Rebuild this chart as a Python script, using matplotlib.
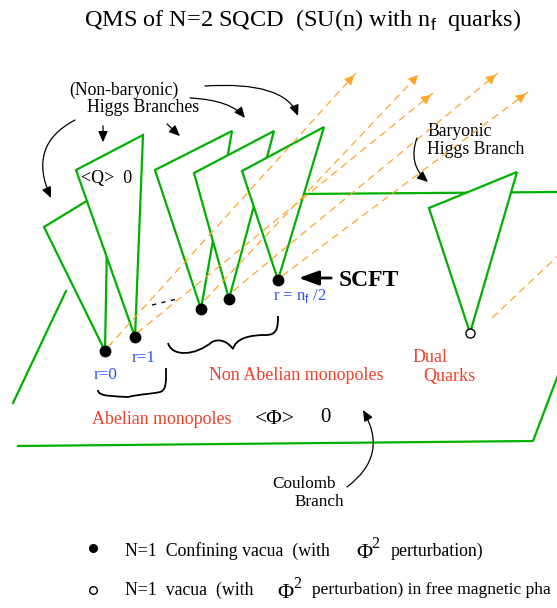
import matplotlib
matplotlib.use("Agg")
import matplotlib.pyplot as plt
from matplotlib.patches import Polygon, FancyArrowPatch, PathPatch
from matplotlib.path import Path

plt.rcParams['font.family'] = ['Liberation Serif', 'DejaVu Serif']
plt.rcParams['mathtext.fontset'] = 'custom'
plt.rcParams['mathtext.rm'] = 'Liberation Serif'
plt.rcParams['mathtext.sf'] = 'Liberation Sans'

GREEN = '#00b000'
ORANGE = '#ffa528'
RED = '#f4402a'
BLUE = '#3050f0'

# sheets of the moduli space (pixel coords of the drawing)
coulomb_left = [(66, 291), (13, 403)]
coulomb_bottom = [(18, 446), (533, 441), (560, 370)]
coulomb_top = [(300, 194), (557, 192)]

# Higgs branches, back to front: left corner, top corner, bottom vacuum
higgs_r0 = [(44, 227), (108, 188), (105, 351)]
higgs_r1 = [(76, 170), (143, 135), (135, 337)]
higgs_c = [(155, 170), (232, 131), (201, 309)]
higgs_d = [(194, 173), (274, 131), (229, 299)]
higgs_e = [(242, 171), (324, 127), (278, 280)]
higgs_baryonic = [(429, 208), (517, 172), (470, 333)]

vacua_x = [105, 135, 201, 229, 278]
vacua_y = [351, 337, 309, 299, 280]
free_vacuum = (470, 333)

# orange dashed directions (start, tip)
flow_start = [(108, 347), (137, 333), (205, 300), (233, 291), (282, 276)]
flow_tip = [(356, 73), (433, 93), (420, 73), (498, 73), (528, 92)]
flow_tail = [(492, 318), (560, 254)]

fig = plt.figure(figsize=(5.57, 6.08), dpi=100)
ax = fig.add_axes([0, 0, 1, 1])
ax.set_xlim(0, 557)
ax.set_ylim(608, 0)
ax.axis('off')

def line(pts, **kw):
    xs, ys = zip(*pts)
    ax.plot(xs, ys, **kw)

line(coulomb_left, color=GREEN, lw=1.6, zorder=1)
line(coulomb_bottom, color=GREEN, lw=1.6, zorder=1)
line(coulomb_top, color=GREEN, lw=1.6, zorder=1)

for i, tri in enumerate([higgs_r0, higgs_r1, higgs_c, higgs_d, higgs_e, higgs_baryonic]):
    ax.add_patch(Polygon(tri, closed=True, facecolor='white', edgecolor=GREEN,
                         lw=1.6, joinstyle='miter', zorder=2 + i))

# orange flows
for (x0, y0), (x1, y1) in zip(flow_start, flow_tip):
    ax.plot([x0, x1], [y0, y1], color=ORANGE, lw=0.9, ls=(0, (6, 4)), zorder=10)
    ax.add_patch(FancyArrowPatch((x0 + (x1 - x0) * 0.95, y0 + (y1 - y0) * 0.95), (x1, y1),
                                 arrowstyle='-|>,head_length=0.5,head_width=0.25',
                                 mutation_scale=14, color=ORANGE, lw=0, zorder=11))
line(flow_tail, color=ORANGE, lw=0.9, ls=(0, (6, 4)), zorder=10)

# vacua
ax.plot(vacua_x, vacua_y, 'o', color='black', ms=7.5, zorder=20)
ax.plot(*free_vacuum, 'o', mfc='white', mec='black', mew=1, ms=6.5, zorder=20)
ax.plot([152, 177], [305, 299], color='black', lw=1, ls=(0, (3, 4)), zorder=20)


def curved_arrow(p0, pm, p1, ms=13):
    cx = 2 * pm[0] - 0.5 * (p0[0] + p1[0])
    cy = 2 * pm[1] - 0.5 * (p0[1] + p1[1])
    path = Path([p0, (cx, cy), p1], [Path.MOVETO, Path.CURVE3, Path.CURVE3])
    ax.add_patch(FancyArrowPatch(path=path, arrowstyle='-|>,head_length=0.5,head_width=0.22',
                                 mutation_scale=ms, color='black', lw=0.9, zorder=15))


curved_arrow((75, 120), (45, 152), (51, 198))
curved_arrow((190, 98), (224, 104), (245, 118))
curved_arrow((205, 86), (268, 91), (298, 116))
curved_arrow((417, 138), (415, 162), (428, 182))
curved_arrow((347, 487), (372, 452), (363, 410))
ax.add_patch(FancyArrowPatch((103, 123), (103, 145), arrowstyle='-|>,head_length=0.5,head_width=0.22',
                             mutation_scale=13, color='black', lw=0.9, zorder=15))
ax.add_patch(FancyArrowPatch((165, 122), (182, 138), arrowstyle='-|>,head_length=0.5,head_width=0.22',
                             mutation_scale=13, color='black', lw=0.9, zorder=15))
ax.add_patch(FancyArrowPatch((334, 278), (296, 278), arrowstyle='-|>,head_length=0.55,head_width=0.2',
                             mutation_scale=22, color='black', lw=2, zorder=15))

# braces
brace1 = Path([(98, 390), (98, 397), (115, 396), (128, 397),
               (140, 394), (152, 394), (160, 392),
               (167, 390), (166, 380), (166, 368)],
              [Path.MOVETO] + [Path.CURVE4] * 9)
brace2 = Path([(168, 343), (172, 357), (195, 356), (212, 342),
               (220, 338), (228, 342), (233, 349),
               (236, 338), (250, 335), (266, 335),
               (277, 335), (278, 328), (278, 316)],
              [Path.MOVETO] + [Path.CURVE4] * 12)
for b in (brace1, brace2):
    ax.add_patch(PathPatch(b, facecolor='none', edgecolor='black', lw=1.3, zorder=15))

# texts
ax.text(84, 20, r'QMS of N=2 SQCD  (SU(n) with n$_\mathsf{f}$  quarks)', fontsize=17.5,
        va='center', ha='left')
ax.text(69, 90, '(Non-baryonic)', fontsize=12.7, va='center')
ax.text(87, 107, 'Higgs Branches', fontsize=12.7, va='center')
ax.text(81, 178, '<Q>  0', fontsize=13, va='center')
ax.text(427, 132, 'Baryonic', fontsize=12.7, va='center')
ax.text(427, 149, 'Higgs Branch', fontsize=12.7, va='center')
ax.text(339, 281, 'SCFT', fontsize=17, fontweight='bold', va='center')
ax.text(273, 296, r'r = n$_\mathsf{f}$ /2', fontsize=12, color=BLUE, va='center')
ax.text(94, 375, 'r=0', fontsize=12.3, color=BLUE, va='center')
ax.text(132, 358, 'r=1', fontsize=12.3, color=BLUE, va='center')
ax.text(209, 375, 'Non Abelian monopoles', fontsize=13, color=RED, va='center')
ax.text(413, 357, 'Dual', fontsize=13, color=RED, va='center')
ax.text(423, 376, 'Quarks', fontsize=13, color=RED, va='center')
ax.text(92, 419, 'Abelian monopoles', fontsize=12.9, color=RED, va='center')
ax.text(255, 420, '<\u03a6>', fontsize=15.5, va='center')
ax.text(320, 418, '0', fontsize=15, va='center')
ax.text(272, 484, 'Coulomb', fontsize=12.3, va='center')
ax.text(295, 502, 'Branch', fontsize=12.3, va='center')

# legend
ax.plot(93, 548, 'o', color='black', ms=5.5)
ax.plot(93, 590, 'o', mfc='white', mec='black', mew=1, ms=5.5)
ax.text(125, 551, 'N=1  Confining vacua  (with', fontsize=12.8, va='center')
ax.text(356, 553, '\u03a6', fontsize=16, va='center')
ax.text(371, 544, '2', fontsize=11.5, va='center')
ax.text(391, 551, 'perturbation)', fontsize=12.8, va='center')
ax.text(125, 590, 'N=1  vacua  (with', fontsize=12.8, va='center')
ax.text(277, 593, '\u03a6', fontsize=16, va='center')
ax.text(293, 584, '2', fontsize=11.5, va='center')
ax.text(312, 590, 'perturbation) in free magnetic pha', fontsize=12.6, va='center')

fig.savefig('out.png', dpi=100)
